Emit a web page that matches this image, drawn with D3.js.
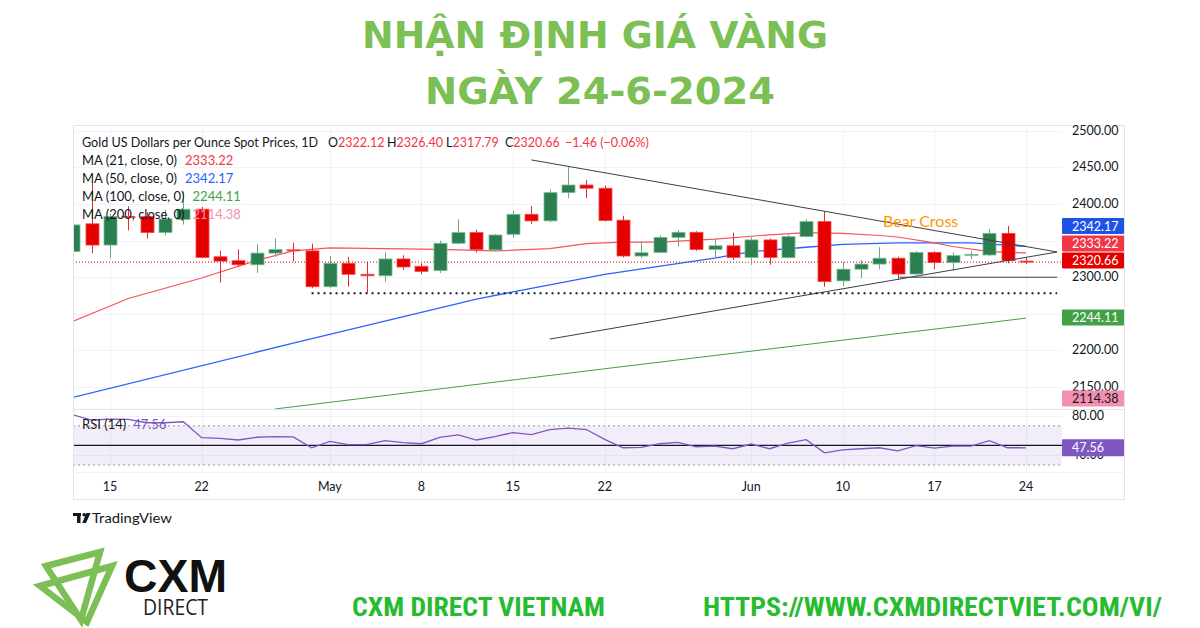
<!DOCTYPE html>
<html><head><meta charset="utf-8">
<script src="https://cdn.jsdelivr.net/npm/d3@7"></script>
<style>
html,body{margin:0;padding:0;background:#fff;}
svg{display:block;}
</style></head>
<body>
<svg id="c" width="1200" height="628"></svg>
<script>
// ---------- DATA ----------
const dateLabels = [
  {i:2,t:"15"},{i:7,t:"22"},{i:14,t:"May"},{i:19,t:"8"},{i:24,t:"15"},
  {i:29,t:"22"},{i:37,t:"Jun"},{i:42,t:"10"},{i:47,t:"17"},{i:52,t:"24"}];
// daily OHLC, Apr 11 .. Jun 24 2024 (trading days)
const opens  = [2335,2373,2344,2383.2,2383,2361,2379,2393,2328,2322.6,2317,2333,2337.5,2336,2287,2319,2304,2302,2325,2315,
                2309,2346.4,2361,2337.3,2358.7,2386,2377,2415.6,2426,2421.6,2378,2329,2334,2354.5,2361.4,2338,2343,2327,2351,2326.7,
                2355.5,2376,2295,2311,2318,2326,2304.4,2334,2320,2330,2330.4,2360,2322.12];
const highs  = [2378,2431,2387,2397,2389,2392,2417,2396,2336,2338,2345,2353,2347,2346,2329,2328,2321,2334,2330,2319,
                2350,2379,2365,2359,2390.6,2397.4,2420,2451,2433,2425,2384,2349,2357,2364.6,2363,2352.3,2361,2354.5,2353,2358,
                2379,2390,2321,2323.5,2341,2328,2336,2335.5,2334,2335.5,2365.7,2370,2326.40];
const lows   = [2320,2333,2326,2364,2353,2357,2372,2326,2292.6,2314,2306,2328,2322,2285,2285,2287,2279,2294,2310,2304,
                2306,2345,2334,2335,2353.6,2372.8,2375,2408,2408,2376,2327,2326,2333,2342,2336,2326,2323.5,2317,2317,2326,
                2354.5,2287,2288,2298.6,2311,2296,2302,2311,2309,2325,2329,2319,2317.79];
const closes = [2371.5,2344,2383,2382.8,2361,2379.6,2393,2327,2322,2317,2333,2338,2336.5,2287,2319,2304,2302,2325,2314,2308,
                2346.4,2361,2338,2357.7,2386,2377,2415.6,2426,2421.6,2377.5,2329,2333.5,2354.5,2361.4,2338,2343,2327,2351,2327,2355.5,
                2376,2294,2311,2318,2326,2304.4,2334,2320,2329.6,2331.3,2360,2322.6,2320.66];
// moving averages: [bar index, value]
const ma21  = [[0,2240],[3,2271],[7,2299],[10,2323],[12,2336],[14,2340],[17,2339],[20,2338],[23,2336],[26,2339],[28,2346],
               [30,2348],[32,2348],[35,2352],[38,2358],[40,2361],[42,2360],[44,2357],[45,2355],[47,2347],[48,2342],[50,2335],[52,2333.22]];
const ma50  = [[0,2136],[12,2210],[22,2270],[24,2280],[29,2304],[35,2326],[37,2335],[40,2341],[42,2345],[45,2347],[49,2347],[52,2342.17]];
const ma100 = [[11,2120],[30,2178],[52,2244.11]];
// RSI(14)
const rsi = [81.0,75.9,76.9,76.6,73.1,73.1,74.1,57.9,57.2,55.5,58.3,59.0,58.6,47.6,54.1,50.7,50.7,54.8,52.8,51.7,
             58.3,60.7,55.5,59.0,63.1,61.0,66.2,67.6,66.2,56.2,47.6,47.9,51.7,53.1,48.6,49.3,46.6,51.4,46.6,52.4,
             55.9,42.4,45.5,46.6,47.6,44.5,49.7,47.2,49.3,49.3,54.8,47.6,47.56];
const priceGrid = [2150,2200,2250,2300,2350,2400,2450,2500];
const priceTickLabels = [2150,2200,2300,2400,2450,2500];
const rsiTicks = [40,80];
// drawn trendlines [index, price]
const upperTrend = [[25.0,2460.3],[53.7,2334.5]];
const lowerTrend = [[26.0,2215.5],[53.7,2334.5]];
const supportLine = [[45.1,2300],[53.7,2300]];
const dottedSupport = [[13.0,2278],[53.7,2278]];
const lastPrice = 2320.66;
const ohlcLegend = [["O","2322.12",328],["H","2326.40",387],["L","2317.79",446],["C","2320.66",505]];
const maLegend = [
  {name:"MA (21, close, 0)", value:"2333.22", color:"#f23645"},
  {name:"MA (50, close, 0)", value:"2342.17", color:"#2962ff"},
  {name:"MA (100, close, 0)", value:"2244.11", color:"#43a047"},
  {name:"MA (200, close, 0)", value:"2114.38", color:"#f48fb1"}];
const axisBadges = [
  {y:226, text:"2342.17", bg:"#1e53e5", fg:"#fff"},
  {y:243.5, text:"2333.22", bg:"#f23645", fg:"#fff"},
  {y:260.5, text:"2320.66", bg:"#e50000", fg:"#fff"},
  {y:317.5, text:"2244.11", bg:"#43a047", fg:"#fff"},
  {y:398.5, text:"2114.38", bg:"#f48fb1", fg:"#131722"}];

// ---------- LAYOUT ----------
const svg = d3.select("#c");
const font = "Lato, 'Open Sans', sans-serif";
const L = 73, R = 1062, RR = 1125, T = 125, MB = 409, RT = 410, RB = 472, B = 500;
const x = d3.scaleLinear().domain([0,52]).range([73.4,1026]);
const y = d3.scaleLinear().domain([2120,2508]).range([MB,T]);
const yr = d3.scaleLinear().domain([30,70]).range([465,425.8]);

// title
const tg = svg.append("g").attr("fill","#7bbf55").attr("font-family","'DejaVu Sans', sans-serif").attr("font-weight","bold").attr("text-anchor","middle");
tg.append("text").attr("x",595).attr("y",48).attr("font-size",38).attr("textLength",466).attr("lengthAdjust","spacingAndGlyphs").text("NHẬN ĐỊNH GIÁ VÀNG");
tg.append("text").attr("x",600).attr("y",104).attr("font-size",38).attr("textLength",350).attr("lengthAdjust","spacingAndGlyphs").text("NGÀY 24-6-2024");

// frame
svg.append("rect").attr("x",L+0.5).attr("y",T+0.5).attr("width",RR-L-1).attr("height",B-T-1).attr("fill","#fff").attr("stroke","#e0e3eb");

// clip paths
const defs = svg.append("defs");
defs.append("clipPath").attr("id","mainclip").append("rect").attr("x",L+1).attr("y",T+1).attr("width",R-L-1).attr("height",MB-T-1);
defs.append("clipPath").attr("id","rsiclip").append("rect").attr("x",L+1).attr("y",RT).attr("width",R-L-1).attr("height",RB-RT);

// grid
const grid = svg.append("g").attr("stroke","#f0f3fa").attr("stroke-width",1);
dateLabels.forEach(d=>{
  const xx = Math.round(x(d.i))+0.5;
  grid.append("line").attr("x1",xx).attr("x2",xx).attr("y1",T+1).attr("y2",RB);
});
priceGrid.forEach(p=>{
  const yy = Math.round(y(p))+0.5;
  grid.append("line").attr("x1",L+1).attr("x2",R).attr("y1",yy).attr("y2",yy);
});
rsiTicks.forEach(v=>{
  const yy = Math.round(yr(v))+0.5;
  grid.append("line").attr("x1",L+1).attr("x2",R).attr("y1",yy).attr("y2",yy);
});
svg.append("line").attr("x1",L).attr("x2",RR).attr("y1",MB+0.5).attr("y2",MB+0.5).attr("stroke","#e0e3eb");
svg.append("line").attr("x1",L).attr("x2",RR).attr("y1",RB+0.5).attr("y2",RB+0.5).attr("stroke","#f0f3fa");

// main pane
const main = svg.append("g").attr("clip-path","url(#mainclip)");
const line = d3.line().x(d=>x(d[0])).y(d=>y(d[1]));
main.append("line").attr("x1",L).attr("x2",R).attr("y1",y(lastPrice)).attr("y2",y(lastPrice))
  .attr("stroke","#e50000").attr("stroke-width",1).attr("stroke-dasharray","1,2");
main.append("path").datum(ma100).attr("d",line).attr("fill","none").attr("stroke","#43a047").attr("stroke-width",1);
main.append("path").datum(ma50).attr("d",line).attr("fill","none").attr("stroke","#2962ff").attr("stroke-width",1.3);
main.append("path").datum(ma21).attr("d",line).attr("fill","none").attr("stroke","#f7525f").attr("stroke-width",1.2);

// candles
const bw = 13;
const candles = main.append("g");
closes.forEach((c,i)=>{
  const o = opens[i], up = c >= o;
  const cx = Math.round(x(i))+0.5;
  candles.append("line").attr("x1",cx).attr("x2",cx).attr("y1",y(highs[i])).attr("y2",y(lows[i]))
    .attr("stroke", up ? "#6aa884" : "#ea2a2a").attr("stroke-width",1);
  const top = y(Math.max(o,c)), bot = y(Math.min(o,c));
  candles.append("rect").attr("x",cx-bw/2).attr("y",top).attr("width",bw).attr("height",Math.max(1,bot-top))
    .attr("fill", up ? "#2a7e4f" : "#e50000").attr("stroke", up ? "#7cbc96" : "#f24a4a").attr("stroke-width",0.8);
});

// trendlines
main.append("path").datum(upperTrend).attr("d",line).attr("fill","none").attr("stroke","#3d3f47").attr("stroke-width",1);
main.append("path").datum(lowerTrend).attr("d",line).attr("fill","none").attr("stroke","#3d3f47").attr("stroke-width",1);
main.append("path").datum(supportLine).attr("d",line).attr("fill","none").attr("stroke","#3d3f47").attr("stroke-width",1);
main.append("path").datum(dottedSupport).attr("d",line).attr("fill","none").attr("stroke","#131722").attr("stroke-width",2).attr("stroke-dasharray","2,4");

main.append("text").attr("x",883).attr("y",227).attr("font-family",font).attr("font-size",16).attr("fill","#ff9800").text("Bear Cross");

// legend
const lg = svg.append("g").attr("font-family",font).attr("font-size",13).attr("fill","#131722");
lg.append("text").attr("x",82).attr("y",147).attr("textLength",236).attr("lengthAdjust","spacingAndGlyphs").text("Gold US Dollars per Ounce Spot Prices, 1D");
ohlcLegend.forEach(([k,v,px])=>{
  const t = lg.append("text").attr("x",px).attr("y",147).attr("font-size",12.5);
  t.append("tspan").text(k);
  t.append("tspan").attr("fill","#f23645").text(v);
});
lg.append("text").attr("x",565).attr("y",147).attr("font-size",12.5).attr("fill","#f23645").text("−1.46 (−0.06%)");
maLegend.forEach((m,k)=>{
  const t = lg.append("text").attr("x",82).attr("y",165+18*k);
  t.append("tspan").text(m.name);
  t.append("tspan").attr("dx",8).attr("fill",m.color).text(m.value);
});

// price axis labels
const ax = svg.append("g").attr("font-family",font).attr("font-size",12.5).attr("fill","#131722");
priceTickLabels.forEach(p=>{
  ax.append("text").attr("x",1072).attr("y",y(p)+4).text(p.toFixed(2));
});
rsiTicks.forEach(v=>{
  ax.append("text").attr("x",1072).attr("y",yr(v)+4).text(v.toFixed(2));
});
axisBadges.forEach(b=>{
  ax.append("rect").attr("x",R).attr("y",b.y-8).attr("width",RR-R-1).attr("height",16).attr("rx",1).attr("fill",b.bg);
  ax.append("text").attr("x",1072).attr("y",b.y+4.5).attr("fill",b.fg).text(b.text);
});

// RSI pane
const rp = svg.append("g").attr("clip-path","url(#rsiclip)");
rp.append("rect").attr("x",L).attr("y",yr(70)).attr("width",R-L).attr("height",yr(30)-yr(70)).attr("fill","rgba(126,87,194,0.1)");
[70,30].forEach(v=>{
  rp.append("line").attr("x1",L).attr("x2",R).attr("y1",yr(v)).attr("y2",yr(v)).attr("stroke","#9598a1").attr("stroke-dasharray","2,3");
});
rp.append("line").attr("x1",L).attr("x2",R).attr("y1",yr(50)).attr("y2",yr(50)).attr("stroke","#131722").attr("stroke-width",1.2);
rp.append("path").datum(rsi).attr("d",d3.line().x((d,i)=>x(i)).y(d=>yr(d))).attr("fill","none").attr("stroke","#7e57c2").attr("stroke-width",1.3);
const rl = svg.append("text").attr("x",82).attr("y",429).attr("font-family",font).attr("font-size",13).attr("fill","#131722");
rl.append("tspan").text("RSI (14)");
rl.append("tspan").attr("dx",7).attr("fill","#7e57c2").text("47.56");
svg.append("rect").attr("x",R).attr("y",yr(47.56)-8.5).attr("width",RR-R-1).attr("height",17).attr("rx",1).attr("fill","#7e57c2");
svg.append("text").attr("x",1072).attr("y",yr(47.56)+4.5).attr("font-family",font).attr("font-size",12.5).attr("fill","#fff").text("47.56");

// time axis
const ta = svg.append("g").attr("font-family",font).attr("font-size",12.5).attr("fill","#131722").attr("text-anchor","middle");
dateLabels.forEach(d=>{
  ta.append("text").attr("x",x(d.i)).attr("y",491).text(d.t);
});

// TradingView mark
const tv = svg.append("g").attr("fill","#131722");
tv.append("rect").attr("x",73).attr("y",513).attr("width",8).attr("height",3);
tv.append("rect").attr("x",77).attr("y",513).attr("width",3.5).attr("height",10);
tv.append("circle").attr("cx",84.2).attr("cy",514.8).attr("r",1.8);
tv.append("path").attr("d","M86.5,513 L90.5,513 L86,523 L82.2,523 Z");
svg.append("text").attr("x",92).attr("y",523).attr("font-family",font).attr("font-size",13.5)
  .attr("textLength",80).attr("lengthAdjust","spacingAndGlyphs").attr("fill","#131722").text("TradingView");

// footer logo
const lgo = svg.append("g").attr("fill","none").attr("stroke","#7bbf55").attr("stroke-width",6.5).attr("stroke-linejoin","miter");
lgo.append("path").attr("d","M46,566 L100,552 L81,620 Z");
lgo.append("path").attr("d","M40,586 L112,566 L87,622 Z");
svg.append("text").attr("x",124).attr("y",592).attr("font-family","'Liberation Sans', Arial, sans-serif").attr("font-weight","bold")
  .attr("font-size",47).attr("textLength",103).attr("lengthAdjust","spacingAndGlyphs").attr("fill","#111").text("CXM");
svg.append("text").attr("x",143).attr("y",615).attr("font-family","'Open Sans', sans-serif").attr("font-size",22)
  .attr("textLength",65).attr("lengthAdjust","spacingAndGlyphs").attr("fill","#222").text("DIRECT");

// footer texts
const ft = svg.append("g").attr("font-family","'Liberation Sans Narrow','Roboto Condensed','Liberation Sans',sans-serif").attr("font-weight","bold").attr("fill","#27bb2f").attr("font-size",25);
ft.append("text").attr("x",352).attr("y",616).attr("textLength",253).attr("lengthAdjust","spacingAndGlyphs").text("CXM DIRECT VIETNAM");
ft.append("text").attr("x",703).attr("y",616).attr("textLength",459).attr("lengthAdjust","spacingAndGlyphs").text("HTTPS://WWW.CXMDIRECTVIET.COM/VI/");
</script>
</body></html>
